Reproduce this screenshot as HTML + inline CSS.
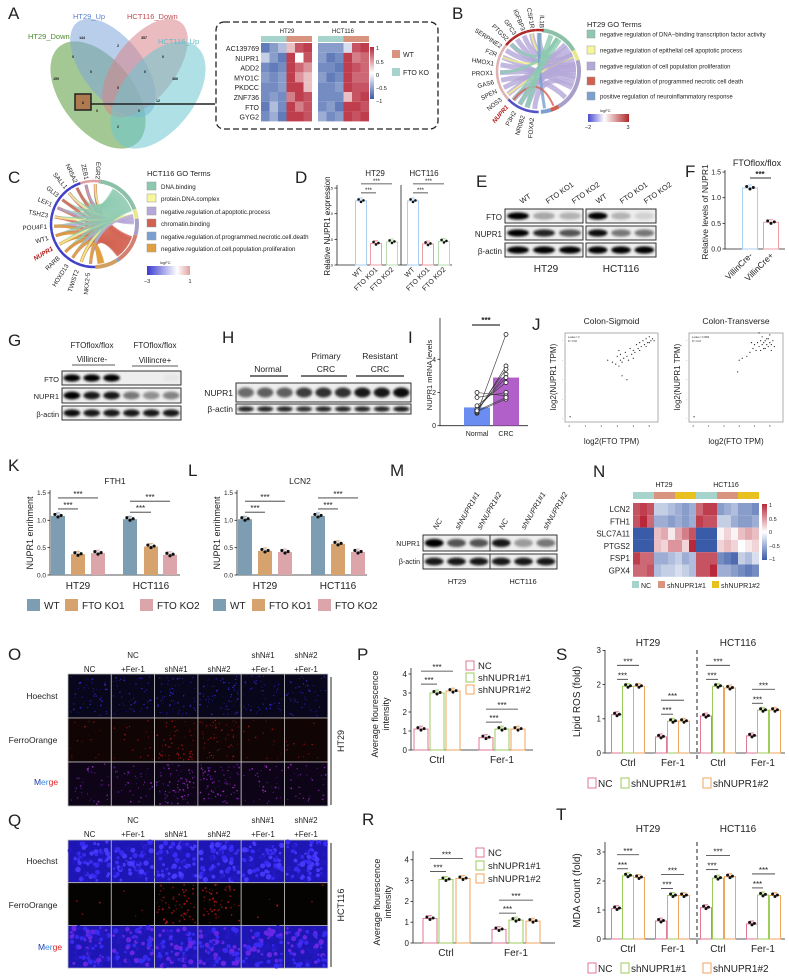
<!DOCTYPE html>
<html><head><meta charset="utf-8"><style>
html,body{margin:0;padding:0;background:#fff;}
svg{display:block;}
text{font-family:"Liberation Sans",Arial,sans-serif;}
</style></head><body>
<svg id="s" width="789" height="977" viewBox="0 0 789 977" xmlns="http://www.w3.org/2000/svg">
<defs>
<filter id="blur" x="-20%" y="-50%" width="140%" height="200%"><feGaussianBlur stdDeviation="1.2"/></filter>
<linearGradient id="gB" x1="0" x2="1"><stop offset="0" stop-color="#4a4ad0"/><stop offset="0.4" stop-color="#ffffff"/><stop offset="1" stop-color="#b02828"/></linearGradient>
<linearGradient id="gC" x1="0" x2="1"><stop offset="0" stop-color="#3a3ad0"/><stop offset="0.7" stop-color="#ffffff"/><stop offset="1" stop-color="#e0a0a0"/></linearGradient>
<linearGradient id="gA" x1="0" y1="0" x2="0" y2="1"><stop offset="0" stop-color="#b8283a"/><stop offset="0.5" stop-color="#ffffff"/><stop offset="1" stop-color="#3a5ba8"/></linearGradient>
</defs>
</svg>
<script>
// ---------- DATA ----------
const aGenes=['AC139769','NUPR1','ADD2','MYO1C','PKDCC','ZNF736','FTO','GYG2'];
const aHT29=[[-.8,-.6,-.4,.3,.8,.9],[-.3,-.6,-.8,.9,0,.8],[-.7,-.8,-.7,.9,.7,.5],[-.6,-.7,-.6,.9,.5,.3],[-.7,-.7,-.6,.9,.9,.3],[-.7,-.6,-.7,.6,.9,.8],[-.8,-.4,-.7,.9,.6,.8],[-.7,-.5,-.8,.9,.9,.8]];
const aHCT=[[-.6,-.6,-.6,-.2,.8,.9],[-.6,-.8,-.7,.9,.6,.7],[-.7,-.7,-.8,.9,.8,.7],[-.6,-.8,-.7,.9,.7,.7],[-.7,-.7,-.6,.9,.8,.8],[-.7,-.7,-.7,.3,.8,.9],[-.7,-.6,-.8,.9,.9,.8],[-.5,-.7,-.6,.9,.8,.9]];
const dCats=['WT','FTO KO1','FTO KO2'];
const dHT29=[1.25,0.42,0.45];
const dHCT116=[1.25,0.41,0.46];
const fCats=['VillinCre-','VillinCre+'];
const fVals=[1.19,0.52];
const iBars=[1.1,2.9];
const iNormal=[0.75,0.8,0.9,0.95,1.0,1.2,1.7,2.0,0.85,0.9];
const iCRC=[5.5,3.6,3.4,3.1,2.9,2.6,2.0,1.8,1.6,1.7];
const j1x=[2.4,2.7,2.9,3.0,3.1,3.2,3.2,3.3,3.4,3.5,3.6,3.7,3.8,3.9,4.0,4.1,4.2,4.3,4.4,4.5,4.6,4.7,4.8,4.9,5.0,5.1,5.2,3.3,3.6,4.0,4.4,4.8,5.0,5.3,3.1,0.05];
const j1y=[3.0,2.9,2.8,3.2,2.7,3.0,3.3,2.9,3.1,3.4,3.2,3.0,3.6,3.3,3.5,3.4,3.8,3.6,3.9,3.7,4.0,3.8,4.1,3.9,4.2,4.0,4.1,2.2,2.0,3.1,3.5,3.7,3.9,4.0,3.5,0.1];
const j2x=[3.0,3.2,3.5,3.7,3.9,4.0,4.1,4.2,4.3,4.4,4.5,4.5,4.6,4.6,4.7,4.8,4.8,4.9,5.0,5.0,5.1,5.2,5.3,4.4,4.7,4.9,3.8,4.3,5.1,2.9,0.05];
const j2y=[3.0,3.1,3.2,3.4,3.6,3.8,3.5,3.9,3.7,4.0,3.8,4.2,3.9,3.6,4.0,3.8,4.1,3.7,3.9,4.3,3.8,4.0,3.7,3.5,3.6,4.1,3.9,4.4,3.5,2.4,0.1];
const kHT29=[1.08,0.38,0.40];
const kHCT116=[1.02,0.52,0.37];
const lHT29=[1.02,0.44,0.42];
const lHCT116=[1.08,0.57,0.42];
const nGenes=['LCN2','FTH1','SLC7A11','PTGS2','FSP1','GPX4'];
const nVals=[
[.8,.9,.8,-.3,-.3,-.4,-.5,-.6,-.5,.7,.9,.9,-.6,-.5,-.4,-.6,-.6,-.7],
[.8,1,.7,-.5,-.5,-.6,-.5,-.6,-.5,.9,.8,.8,-.3,-.3,-.5,-.6,-.6,-.5],
[-1,-1,-1,.3,.4,.1,.4,.6,.8,-1,-1,-1,.05,.2,.05,.3,.4,.3],
[-1,-1,-1,.3,.2,.5,.5,.2,1,-1,-1,-1,.2,.3,.2,0,.1,.2],
[.9,.7,.7,-.5,-.5,-.4,-.3,-.5,-.4,.8,.8,.8,-.7,-.8,-.9,-.3,-.4,-.2],
[.7,.7,.8,-.4,-.3,-.3,-.2,-.3,-.4,.8,.8,1,-.5,-.5,-.6,-.7,-.8,-.7]];
const pCtrl=[1.1,3.0,3.1];
const pFer=[0.65,1.1,1.1];
const rCtrl=[1.18,3.05,3.1];
const rFer=[0.65,1.1,1.05];
const sHT29Ctrl=[1.12,1.95,1.95];
const sHT29Fer=[0.47,0.93,0.93];
const sHCTCtrl=[1.08,1.95,1.9];
const sHCTFer=[0.5,1.25,1.25];
const tHT29Ctrl=[1.05,2.18,2.12];
const tHT29Fer=[0.62,1.5,1.5];
const tHCTCtrl=[1.08,2.1,2.15];
const tHCTFer=[0.52,1.52,1.5];

// ---------- HELPERS ----------
const S=document.getElementById('s');
const NS='http://www.w3.org/2000/svg';
function mk(tag,a,p){const e=document.createElementNS(NS,tag);for(const k in a)e.setAttribute(k,a[k]);(p||S).appendChild(e);return e;}
function tx(x,y,s,fs,o){o=o||{};const e=mk('text',{x:x,y:y,'font-size':fs,'text-anchor':o.a||'start',fill:o.c||'#222'});
 if(o.r)e.setAttribute('transform','rotate('+o.r+' '+x+' '+y+')');if(o.w)e.setAttribute('font-weight',o.w);if(o.st)e.setAttribute('font-style',o.st);
 e.textContent=s;return e;}
function ln(x1,y1,x2,y2,c,w,d){const e=mk('line',{x1:x1,y1:y1,x2:x2,y2:y2,stroke:c||'#222','stroke-width':w||0.8});if(d)e.setAttribute('stroke-dasharray',d);return e;}
function rc(x,y,w,h,f,s,sw){return mk('rect',{x:x,y:y,width:w,height:h,fill:f||'none',stroke:s||'none','stroke-width':sw||0.8});}
function panel(L,x,y){const e=tx(x,y,L,17,{n:'panel-label-'+L.toLowerCase()});return e;}
function hcol(v){const b=[58,91,168],w=[255,255,255],r=[184,40,58];const t=Math.abs(v),c=v<0?b:r;
 return 'rgb('+w.map((q,i)=>Math.round(q+(c[i]-q)*t)).join(',')+')';}
let seed=12345;function rnd(){seed=(seed*16807)%2147483647;return seed/2147483647;}

// ---------- PANEL A ----------
panel('A',8,19);
const venn=[['#5a9a3c',98,95,36,62,-38],['#7ea6d8',113,68,30,58,-38],['#d9838a',145,68,30,58,38],['#6cc6d0',158,95,36,62,38]];
venn.forEach((v,i)=>{const e=mk('ellipse',{cx:v[1],cy:v[2],rx:v[3],ry:v[4],fill:v[0],'fill-opacity':0.55,transform:'rotate('+v[5]+' '+v[1]+' '+v[2]+')'});
});
tx(73,19,'HT29_Up',7.5,{c:'#5a7fcf'});tx(127,19,'HCT116_Down',7.5,{c:'#c04a50'});
tx(28,39,'HT29_Down',7.5,{c:'#4a8a30'});tx(158,44,'HCT116_Up',7.5,{c:'#5bc0cc'});
[[82,39,'144'],[144,39,'357'],[118,47,'2'],[73,58,'0'],[163,58,'0'],[91,73,'0'],[145,73,'0'],[56,80,'159'],[175,80,'386'],[118,89,'0'],[158,102,'12'],[97,112,'0'],[139,112,'0'],[118,128,'2']].forEach(n=>tx(n[0],n[1],n[2],3.5,{a:'middle',c:'#111',w:'bold'}));
rc(75,94,16,16,'#b07a50','#222',1.5);tx(83,104,'8',4,{a:'middle',w:'bold'});
ln(91,104,215,104,'#222',1.5);
const box=rc(216,22,222,107,'none','#222',1.3);box.setAttribute('stroke-dasharray','6 3');box.setAttribute('rx','8');
tx(287,33,'HT29',6,{a:'middle'});tx(343,33,'HCT116',6,{a:'middle'});
function hmA(x0,mat){for(let c=0;c<6;c++)rc(x0+c*8.5,36,8.5,6,c<3?'#a6d4cc':'#d99480');
 mat.forEach((row,r)=>row.forEach((v,c)=>{const e=rc(x0+c*8.5,43+r*9.8,8.5,9.8,hcol(v));}));}
hmA(261,aHT29);hmA(318,aHCT);
aGenes.forEach((g,i)=>tx(259,51+i*9.8,g,7,{a:'end'}));
rc(370,47,4,52,'url(#gA)');
[['1',48],['0.5',62],['0',75],['−0.5',88],['−1',101]].forEach(t=>tx(376,t[1]+2,t[0],5.5));
rc(392,50,8,8,'#d99480');tx(403,57,'WT',7);rc(392,68,8,8,'#a6d4cc');tx(403,75,'FTO KO',7);

// ---------- CHORD helper ----------
function chord(cx,cy,r,genes,gA0,gA1,terms,links,grad,ringColor){
 const P=(a,rr)=>[cx+rr*Math.cos(a*Math.PI/180),cy+rr*Math.sin(a*Math.PI/180)];
 const arc=(a0,a1,rr,col,w)=>{const p0=P(a0,rr),p1=P(a1,rr);const large=((a1-a0+360)%360)>180?1:0;
  return mk('path',{d:`M${p0[0]},${p0[1]} A${rr},${rr} 0 ${large} 1 ${p1[0]},${p1[1]}`,fill:'none',stroke:col,'stroke-width':w});};
 links.forEach(l=>{const ga=gA0+(gA1-gA0)*l[0]/(genes.length-1);const ta=l[1];const p0=P(ga,r-3),p1=P(ta,r-3);
  const e=mk('path',{d:`M${p0[0]},${p0[1]} Q${cx},${cy} ${p1[0]},${p1[1]}`,fill:'none',stroke:l[2],'stroke-width':l[3],'stroke-opacity':0.8});
  });
 terms.forEach(t=>arc(t[0],t[1],r,t[2],4));
 genes.forEach((g,i)=>{const a=gA0+(gA1-gA0)*i/(genes.length-1);const st=(gA1-gA0)/(genes.length-1)/2;
  arc(Math.min(a-st,a+st),Math.max(a-st,a+st),r,ringColor(i),2.5);
  const p=P(a,r+4);const isN=g==='NUPR1';tx(p[0],p[1]+2,g,6.3,{a:'end',r:a-180,c:isN?'#b01818':'#222',w:isN?'bold':null,st:isN?'italic':null,n:'gene-label'});});
}
// ---------- PANEL B ----------
panel('B',452,19);
const bGenes=['IL1B','CSF1R','IGFBP3','GPC3','PTGS2','SERPINE2','F2R','HMOX1','PROX1','GAS6','SPEN','NOS3','NUPR1','P3H2','NR0B2','FOXA2'];
const bLinks=[];const lav='#b4a8d8';
bGenes.forEach((g,i)=>{bLinks.push([i,350+i*6%60-(i%3)*20,lav,5]);if(i%4===0)bLinks.push([i,300,'#8cc9b0',3]);if(i%5===1)bLinks.push([i,338,'#f2f08a',2]);});
bLinks.push([0,80,'#7a9fd0',3]);bLinks.push([12,66,'#d26050',2]);bLinks.push([14,290,'#8cc9b0',5]);bLinks.push([13,305,'#8cc9b0',4]);
chord(538,71,41,bGenes,272,95,[[276,330,'#8cc0a8'],[330,345,'#e8e890'],[345,60,'#a8a0c8'],[60,72,'#d26050'],[72,86,'#7a9fd0']],bLinks,null,i=>i<5?'#b02828':(i<12?'#e0b0b0':'#5050c8'));
tx(587,27,'HT29 GO Terms',7.5);
[['#8cc9b0','negative regulation of DNA−binding transcription factor activity'],['#f6f69a','negative regulation of epithelial cell apoptotic process'],['#b4a8d8','negative regulation of cell population proliferation'],['#d26050','negative regulation of programmed necrotic cell death'],['#7a9fd0','positive regulation of neuroinflammatory response']].forEach((t,i)=>{
 const y=[30,46,62,77,92][i];rc(587,y,8,8,t[0],'#999',0.5);tx(600,y+6.5,t[1],6);});
tx(600,112,'logFC',4);rc(588,114,41,8,'url(#gB)');tx(588,129,'−2',5.5,{a:'middle'});tx(628,129,'3',5.5,{a:'middle'});

// ---------- PANEL C ----------
panel('C',8,183);
const cGenes=['EGR2','ZEB1','NR5A2','SALL1','GLI3','LEF1','TSHZ3','POU4F1','WT1','NUPR1','RARB','HOXD13','TWIST2','NKX2-5'];
const cLinks=[];
cGenes.forEach((g,i)=>{cLinks.push([i,300+i*3,'#8cc9b0',3]);cLinks.push([i,20+i*2.5,'#d26050',3]);if(i%2)cLinks.push([i,0-i,'#b4a8d8',2]);if(i>6)cLinks.push([i,70+i,'#e0a040',3]);if(i%3===0)cLinks.push([i,347,'#f6f69a',2]);});
chord(94,224,43,cGenes,272,95,[[276,340,'#8cc0a8'],[340,353,'#e8e890'],[353,15,'#a8a0c8'],[15,55,'#d48070'],[55,58,'#7a9fd0'],[58,88,'#d0a060']],cLinks,null,i=>i<2?'#e0a0a0':'#4040c8');
tx(147,176,'HCT116 GO Terms',7.5);
[['#8cc9b0','DNA.binding'],['#f6f69a','protein.DNA.complex'],['#b4a8d8','negative.regulation.of.apoptotic.process'],['#d26050','chromatin.binding'],['#7a9fd0','negative.regulation.of.programmed.necrotic.cell.death'],['#e0a040','negative.regulation.of.cell.population.proliferation']].forEach((t,i)=>{
 const y=[182,194,207,219,232,244][i];rc(147,y,9,8,t[0],'#999',0.5);tx(161,y+7,t[1],6.2);});
tx(160,264,'logFC',4);rc(147,266,43,9,'url(#gC)');tx(147,283,'−3',5.5,{a:'middle'});tx(190,283,'1',5.5,{a:'middle'});

// ---------- GENERIC BAR CHART ----------
function axisY(ax,y0,k,ticks,fs,top,fmt){ln(ax,y0,ax,top);ticks.forEach(t=>{const y=y0-t*k;ln(ax-2.5,y,ax,y);tx(ax-4,y+fs*0.35,fmt?fmt(t):String(t),fs,{a:'end',n:'y-tick-label'});});}
function barGroup(vals,centers,bw,y0,k,styles,dotR,name){
 vals.forEach((v,i)=>{const st=styles[i];const y=y0-v*k;
  const b=rc(centers[i]-bw/2,y,bw,v*k,st.f,st.s,st.w||1);
  
  ln(centers[i],y-3,centers[i],y,st.s==='none'?st.f:st.s,0.8);ln(centers[i]-2,y-3,centers[i]+2,y-3,st.s==='none'?st.f:st.s,0.8);
  [[-bw*0.22,-1.5],[0,1],[bw*0.22,-0.5]].forEach(o=>{const d=mk('circle',{cx:centers[i]+o[0],cy:y+o[1],r:dotR,fill:'#111'});});});}
function sig(vals,centers,y0,k,o1,o2,fs){const y=y0-Math.max(...vals)*k;
 [[1,o1],[2,o2]].forEach(p=>{const yy=y-p[1];ln(centers[0],yy,centers[p[0]],yy,'#333',0.8);tx((centers[0]+centers[p[0]])/2,yy-1,'***',fs,{a:'middle',n:'significance-stars'});});}

// ---------- PANEL D ----------
panel('D',295,183);
{const ax=337,y0=265,k=51.3,bw=11;axisY(ax,y0,k,[0,0.5,1.0,1.5],4,185,t=>t.toFixed(1));ln(ax,y0,452,y0);ln(401,185,401,y0);
 const st=[{f:'#fff',s:'#a9cff2'},{f:'#fff',s:'#ec9ea4'},{f:'#fff',s:'#b7dcb0'}];
 const c1=[361,376,392],c2=[413,428,444];
 barGroup(dHT29,c1,bw,y0,k,st,1.3,'d-ht29');barGroup(dHCT116,c2,bw,y0,k,st,1.3,'d-hct116');
 sig(dHT29,c1,y0,k,8,17,6);sig(dHCT116,c2,y0,k,8,17,6);
 tx(375,176,'HT29',8,{a:'middle'});tx(424,176,'HCT116',8,{a:'middle'});
 [...c1,...c2].forEach((c,i)=>tx(c+2,270,dCats[i%3],7,{a:'end',r:-45}));
 tx(330,226,'Relative NUPR1 expression',8,{a:'middle',r:-90,n:'y-axis-title'});}

// ---------- BLOT helper ----------
function blot(x,y,w,h,ints,name){const g=mk('g',{});
 mk('rect',{x:x,y:y,width:w,height:h,fill:'#eeeeee',stroke:'#333','stroke-width':1},g);
 const lw=w/ints.length;ints.forEach((v,i)=>{if(v>0)mk('ellipse',{cx:x+lw*(i+.5),cy:y+h/2,rx:lw*0.42,ry:h*0.26,fill:'#000','fill-opacity':v,filter:'url(#blur)'},g);});}

// ---------- PANEL E ----------
panel('E',476,187);
blot(505,209,78,14,[1,0.3,0.25],'e-fto-ht29');blot(586,209,70,14,[1,0.25,0.12],'e-fto-hct116');
blot(505,226,78,14,[1,0.85,0.65],'e-nupr1-ht29');blot(586,226,70,14,[0.95,0.5,0.5],'e-nupr1-hct116');
blot(505,243,78,14,[1,1,1],'e-actin-ht29');blot(586,243,70,14,[1,1,1],'e-actin-hct116');
tx(502,220,'FTO',8,{a:'end'});tx(502,237,'NUPR1',8,{a:'end'});tx(502,254,'β-actin',8,{a:'end'});
['WT','FTO KO1','FTO KO2'].forEach((s,i)=>{tx(522+i*26,204,s,7.5,{r:-35});tx(598+i*24,204,s,7.5,{r:-35});});
tx(546,272,'HT29',10,{a:'middle'});tx(621,272,'HCT116',10,{a:'middle'});

// ---------- PANEL F ----------
panel('F',685,177);
{const ax=725,y0=249,k=51.3;axisY(ax,y0,k,[0,0.5,1.0,1.5],7,170,t=>t.toFixed(1));ln(ax,y0,785,y0);
 const c=[750,771];barGroup(fVals,c,15,y0,k,[{f:'#fff',s:'#a9cff2'},{f:'#fff',s:'#ec9ea4'}],1.5,'f');
 const yy=y0-fVals[0]*k-10;ln(750,yy,771,yy,'#333',1);tx(760,yy-1,'***',8,{a:'middle',w:'bold'});
 tx(757,166,'FTOflox/flox',9,{a:'middle'});
 fCats.forEach((s,i)=>tx(c[i]+3,256,s,8.5,{a:'end',r:-45}));
 tx(708,212,'Relative levels of NUPR1',8.5,{a:'middle',r:-90,n:'y-axis-title'});}

// ---------- PANEL G ----------
panel('G',8,346);
tx(92,348,'FTOflox/flox',8,{a:'middle'});tx(155,348,'FTOflox/flox',8,{a:'middle'});
tx(92,362,'Villincre-',8,{a:'middle'});tx(155,363,'Villincre+',8,{a:'middle'});ln(72,365,115,365);ln(132,366,178,366);
blot(62,371,119,14,[1,1,1,0,0,0.03],'g-fto');blot(62,388,119,15,[1,0.9,0.9,0.5,0.4,0.45],'g-nupr1');blot(62,406,119,14,[0.95,0.9,0.9,0.9,0.9,0.9],'g-actin');
tx(59,382,'FTO',7.5,{a:'end'});tx(59,399,'NUPR1',7.5,{a:'end'});tx(59,417,'β-actin',7.5,{a:'end'});

// ---------- PANEL H ----------
panel('H',222,343);
tx(268,372,'Normal',8.5,{a:'middle'});ln(250,376,288,376,'#222',1.2);
tx(326,359,'Primary',8.5,{a:'middle'});tx(326,372,'CRC',8.5,{a:'middle'});ln(301,376,347,376,'#222',1.2);
tx(380,359,'Resistant',8.5,{a:'middle'});tx(380,372,'CRC',8.5,{a:'middle'});ln(356,376,404,376,'#222',1.2);
blot(236,383,175,19,[0.55,0.6,0.6,0.75,0.8,0.8,0.9,0.9,0.95],'h-nupr1');blot(236,404,175,10,[0.85,0.85,0.85,0.8,0.85,0.85,0.85,0.85,0.9],'h-actin');
tx(233,396,'NUPR1',8.5,{a:'end'});tx(233,412,'β-actin',8.5,{a:'end'});

// ---------- PANEL I ----------
panel('I',408,343);
{const ax=440,y0=425.7,k=16.6;axisY(ax,y0,k,[0,2,4],7,318);ln(ax,y0,528,y0);
 const c=[477,506];const cols=['#6b8cf0','#b060c8'];
 iBars.forEach((v,i)=>{const b=rc(c[i]-13,y0-v*k,26,v*k,cols[i]);});
 iNormal.forEach((v,i)=>{ln(c[0],y0-v*k,c[1],y0-iCRC[i]*k,'#333',0.6);});
 iNormal.forEach(v=>{const d=mk('circle',{cx:c[0],cy:y0-v*k,r:2,fill:'#fff',stroke:'#222','stroke-width':0.8});});
 iCRC.forEach(v=>{const d=mk('circle',{cx:c[1],cy:y0-v*k,r:2,fill:'#fff',stroke:'#222','stroke-width':0.8});});
 ln(472,325,500,325,'#555',1.5);tx(486,323,'***',8,{a:'middle',w:'bold'});
 tx(477,436,'Normal',7,{a:'middle'});tx(506,436,'CRC',7,{a:'middle'});
 tx(432,375,'NUPR1 mRNA levels',7.5,{a:'middle',r:-90,n:'y-axis-title'});}

// ---------- PANEL J ----------
panel('J',532,330);
function scatter(bx,bw,xs,ys,X0,kx,title,name,tp){rc(bx,333,bw,89,'#fff','#999',0.8);
 const yf=v=>418.7-v*19.5;
 [0,1,2,3,4,5].forEach(t=>tx(X0+t*kx,427,String(t),2.5,{a:'middle'}));[0,1,2,3,4].forEach(t=>tx(bx-2,yf(t)+1,'-',3,{a:'end'}));
 xs.forEach((x,i)=>{const d=mk('circle',{cx:X0+x*kx,cy:yf(ys[i]),r:0.6,fill:'#222'});});
 tx(bx+3,338,tp[0],2.3);tx(bx+3,342,tp[1],2.3);
 tx(bx+bw/2,324,title,8.5,{a:'middle',n:'scatter-title'});tx(bx+bw/2,444,'log2(FTO TPM)',8,{a:'middle',n:'x-axis-title'});
 tx(bx-9,377,'log2(NUPR1 TPM)',8,{a:'middle',r:-90,n:'y-axis-title'});}
scatter(565,93,j1x,j1y,569.3,16,'Colon-Sigmoid','j-sigmoid',['p-value = 0','R = 0.84']);
scatter(689,94,j2x,j2y,693.3,15.3,'Colon-Transverse','j-transverse',['p-value = 0.0062','R = 0.23']);

// ---------- PANELS K,L ----------
function kl(L,lx,ly,ax,title,tx0,ht,hc,c1,c2){panel(L,lx,ly);
 const y0=575,k=54.7;axisY(ax,y0,k,[0,0.5,1.0,1.5],6.5,490,t=>t.toFixed(1));ln(ax,y0,ax+130,y0);
 const st=[{f:'#7c9db2',s:'none'},{f:'#d6a36f',s:'none'},{f:'#dba5a9',s:'none'}];
 barGroup(ht,c1,14,y0,k,st,1.6,L.toLowerCase()+'-ht29');barGroup(hc,c2,14,y0,k,st,1.6,L.toLowerCase()+'-hct116');
 sig(ht,c1,y0,k,7,18,8);sig(hc,c2,y0,k,7,18,8);
 tx(tx0,484,title,8.5,{a:'middle'});tx(c1[1],589,'HT29',10,{a:'middle'});tx(c2[1],589,'HCT116',10,{a:'middle'});
 tx(ax-17,533,'NUPR1 enrihment',9,{a:'middle',r:-90,n:'y-axis-title'});}
kl('K',8,471,50,'FTH1',115,kHT29,kHCT116,[58,78,98],[130,151,170]);
kl('L',188,476,237,'LCN2',300,lHT29,lHCT116,[245,265,285],[318,338,358]);
[[27,'WT','#7c9db2'],[65,'FTO KO1','#d6a36f'],[140,'FTO KO2','#dba5a9'],[213,'WT','#7c9db2'],[252,'FTO KO1','#d6a36f'],[318,'FTO KO2','#dba5a9']].forEach(l=>{const b=rc(l[0],599,13,12,l[2]);tx(l[0]+17,609,l[1],10,{n:'legend-entry'});});

// ---------- PANEL M ----------
panel('M',390,476);
blot(423,535,67,16,[1,0.65,0.65],'m-nupr1-ht29');blot(490,535,67,16,[0.9,0.35,0.5],'m-nupr1-hct116');
blot(423,554,67,15,[0.9,0.9,0.9],'m-actin-ht29');blot(490,554,67,15,[0.9,0.9,0.9],'m-actin-hct116');
tx(420,546,'NUPR1',7,{a:'end'});tx(420,564,'β-actin',7,{a:'end'});
['NC','shNUPR1#1','shNUPR1#2'].forEach((s,i)=>{tx(437+i*22,530,s,7.5,{r:-60,st:'italic'});tx(503+i*22,530,s,7.5,{r:-60,st:'italic'});});
tx(457,584,'HT29',7.5,{a:'middle'});tx(523,584,'HCT116',7.5,{a:'middle'});

// ---------- PANEL N ----------
panel('N',593,477);
tx(664,487,'HT29',7,{a:'middle'});tx(726,487,'HCT116',7,{a:'middle'});
for(let c=0;c<18;c++)rc(633+c*7,492,7,7,['#a6d4cc','#d99480','#e8c020'][Math.floor((c%9)/3)]);
nVals.forEach((row,r)=>row.forEach((v,c)=>{const e=rc(633+c*7,503+r*12.3,7,12.3,hcol(v));}));
nGenes.forEach((g,i)=>tx(630,512+i*12.3,g,8,{a:'end'}));
rc(762,504,5,56,'url(#gA)');[['1',505],['0.5',519],['0',532],['−0.5',546],['−1',559]].forEach(t=>tx(769,t[1]+2,t[0],5.5));
[[632,'NC','#a6d4cc'],[658,'shNUPR1#1','#d99480'],[712,'shNUPR1#2','#e8c020']].forEach(l=>{rc(l[0],581,7,7,l[2]);tx(l[0]+9,588,l[1],7,{n:'legend-entry'});});

// ---------- FLUORESCENCE GRIDS ----------
function grid(x0,y0,cw,ch,rows,name){rows.forEach((r,ri)=>{for(let c=0;c<6;c++){const x=x0+c*cw,y=y0+ri*ch;
 const g=mk('g',{});
 mk('rect',{x:x,y:y,width:cw,height:ch,fill:r.bg,stroke:'#bbb','stroke-width':0.8},g);
 const n=r.n[c];for(let i=0;i<n;i++){mk('circle',{cx:x+2+rnd()*(cw-4),cy:y+2+rnd()*(ch-4),r:r.rmin+rnd()*r.rv,fill:r.col[i%r.col.length],'fill-opacity':r.op||0.85},g);}}});}
panel('O',8,660);
grid(68,674,43.3,44,[{bg:'#07061a',n:[50,50,60,60,50,50],col:['#3a2ae0','#2a1ca8'],rmin:0.4,rv:0.5,op:0.8},
 {bg:'#110404',n:[14,16,60,55,14,12],col:['#c01818','#801010'],rmin:0.4,rv:0.5,op:0.8},
 {bg:'#0e0418',n:[35,35,80,75,35,35],col:['#8a28c0','#5018a0','#b030d0'],rmin:0.4,rv:0.55,op:0.8}],'o');
panel('Q',8,826);
grid(68,840,43.3,42.7,[{bg:'#1e16b4',n:[70,70,70,70,70,70],col:['#3a2cf6','#2418c0','#4a3cff'],rmin:1.2,rv:1.6,op:0.9},
 {bg:'#050202',n:[3,3,60,60,3,2],col:['#c01a1a','#801010'],rmin:0.5,rv:0.6},
 {bg:'#1e16b4',n:[70,70,75,75,70,70],col:['#3a2cf6','#2418c0','#6a28e8'],rmin:1.2,rv:1.6,op:0.9}],'q');
function heads(y1,y2){const cx=[89.6,133,176,219,263,306];
 tx(cx[0],y2,'NC',8,{a:'middle'});tx(cx[1],y1,'NC',8,{a:'middle'});tx(cx[1],y2,'+Fer-1',8,{a:'middle'});
 tx(cx[2],y2,'shN#1',8,{a:'middle'});tx(cx[3],y2,'shN#2',8,{a:'middle'});
 tx(cx[4],y1,'shN#1',8,{a:'middle'});tx(cx[4],y2,'+Fer-1',8,{a:'middle'});tx(cx[5],y1,'shN#2',8,{a:'middle'});tx(cx[5],y2,'+Fer-1',8,{a:'middle'});}
heads(658,672);heads(823,837);
function rowlabs(yh,yf,ym,xm){tx(42,yh,'Hoechst',8.5,{a:'middle'});tx(33,yf,'FerroOrange',8.5,{a:'middle'});
 const m=tx(xm,ym,'',8.5,{a:'middle'});m.innerHTML='<tspan fill="#1a3ab0">M</tspan><tspan fill="#3a8ae0">er</tspan><tspan fill="#e02020">ge</tspan>';}
rowlabs(699,743,785,46);rowlabs(864,908,950,50);
ln(331,677,331,805,'#222',1);tx(344,741,'HT29',9,{a:'middle',r:-90});
ln(331,843,331,967,'#222',1);tx(344,905,'HCT116',9,{a:'middle',r:-90});

// ---------- P, R ----------
const shSt=[{f:'#fff',s:'#e07a94'},{f:'#fff',s:'#9ccd5b'},{f:'#fff',s:'#f2a55e'}];
function pr(L,lx,ly,ax,y0,k,top,ctrl,fer,cc,cf,xend,lgx,lgy,lgd,ylx){panel(L,lx,ly);
 axisY(ax,y0,k,[0,1,2,3,4],8,top);ln(ax,y0,xend,y0);
 barGroup(ctrl,cc,14,y0,k,shSt,1.5,L.toLowerCase()+'-ctrl');barGroup(fer,cf,14,y0,k,shSt,1.5,L.toLowerCase()+'-fer1');
 sig(ctrl,cc,y0,k,7,20,8);sig(fer,cf,y0,k,7,20,8);
 tx(cc[1],y0+13,'Ctrl',10,{a:'middle'});tx(cf[1],y0+13,'Fer-1',10,{a:'middle'});
 ['NC','shNUPR1#1','shNUPR1#2'].forEach((s,i)=>{const b=rc(lgx,lgy+i*lgd,8,9,'#fff',shSt[i].s,1);tx(lgx+12,lgy+i*lgd+8,s,9.5,{n:'legend-entry'});});
 tx(ylx,(top+y0)/2+5,'Average flourescence',9,{a:'middle',r:-90,n:'y-axis-title'});tx(ylx+11,(top+y0)/2+5,'intensity',9,{a:'middle',r:-90});}
pr('P',357,660,411,750,19,668,pCtrl,pFer,[421,437,453],[486,502,518],533,466,661,12,378);
pr('R',362,825,413,943,20.8,851,rCtrl,rFer,[430,446,463],[499,516,533],555,476,848,13,380);

// ---------- S, T ----------
function st(L,ly,y0,k,top,titY,a,b,c,d,ticks,ytitle,lgy){panel(L,556,ly);
 axisY(605,y0,k,ticks,8,top);ln(605,y0,785,y0);ln(697,top,697,y0+8,'#222',1,'4 3');
 const g=[[617,628,639],[661,673,684],[706,718,730],[752,763,775]];
 [[a,'ht29-ctrl'],[b,'ht29-fer1'],[c,'hct116-ctrl'],[d,'hct116-fer1']].forEach((v,i)=>{barGroup(v[0],g[i],11,y0,k,shSt,1.5,L.toLowerCase()+'-'+v[1]);sig(v[0],g[i],y0,k,7,21,8);
  tx(g[i][1],y0+13,i%2?'Fer-1':'Ctrl',10,{a:'middle'});});
 tx(648,titY,'HT29',10,{a:'middle'});tx(738,titY,'HCT116',10,{a:'middle'});
 tx(580,(top+y0)/2,ytitle,10,{a:'middle',r:-90,n:'y-axis-title'});
 [[588,'NC'],[621,'shNUPR1#1'],[703,'shNUPR1#2']].forEach((l,i)=>{const s=rc(l[0],lgy-9,8,10,'#fff',shSt[i].s,1);tx(l[0]+10,lgy,l[1],10,{n:'legend-entry'});});}
st('S',660,753,34.2,650,646,sHT29Ctrl,sHT29Fer,sHCTCtrl,sHCTFer,[0,1,2,3],'Lipid ROS (fold)',787);
st('T',820,939,29,842,832,tHT29Ctrl,tHT29Fer,tHCTCtrl,tHCTFer,[0,1,2,3],'MDA count (fold)',972);
</script>
</body></html>
